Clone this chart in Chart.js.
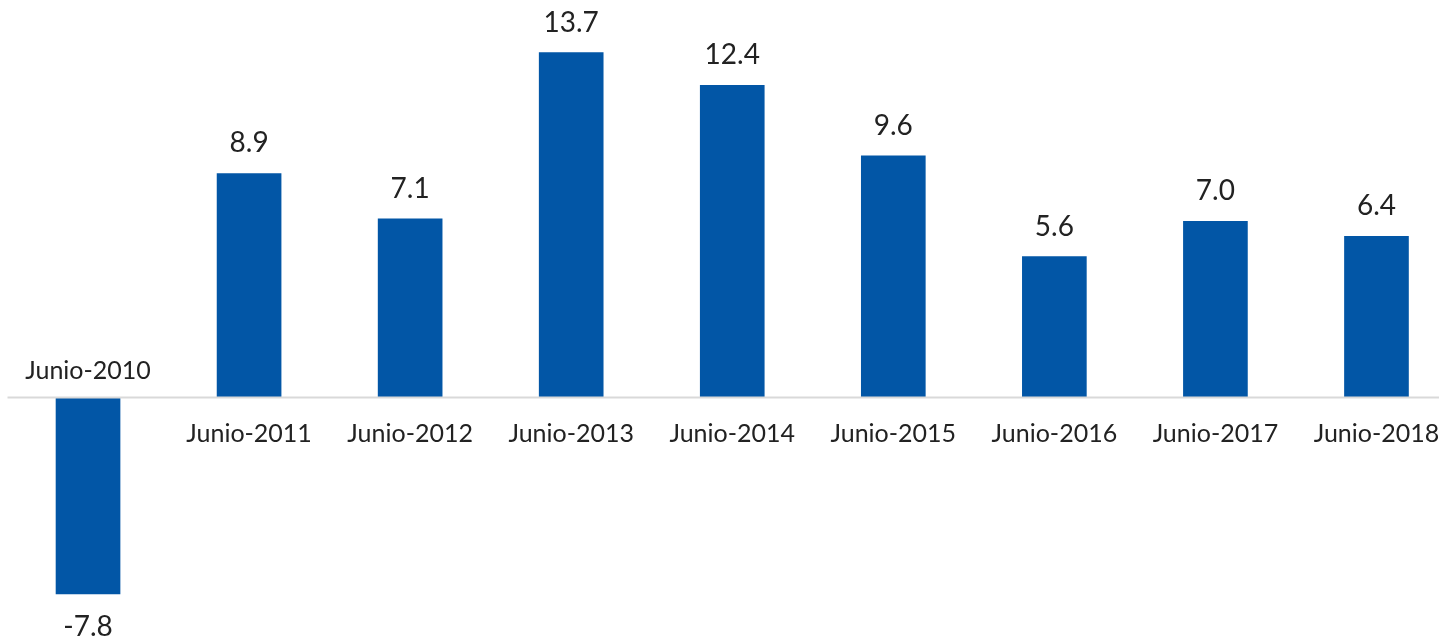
<!DOCTYPE html>
<html lang="es">
<head>
    <meta charset="UTF-8">
    <title>Variación Junio 2010 - Junio 2018</title>
    <script src="https://cdn.jsdelivr.net/npm/chart.js"></script>
    <style>
        html, body {
            margin: 0;
            padding: 0;
            background: #ffffff;
            overflow: hidden;
        }

        .chart-box {
            position: relative;
            width: 1457px;
            height: 642px;
        }
    </style>
</head>
<body>
    <div class="chart-box">
        <canvas id="barChart"></canvas>
    </div>

    <script>
        // data
        const categories = ['Junio-2010', 'Junio-2011', 'Junio-2012', 'Junio-2013', 'Junio-2014',
                            'Junio-2015', 'Junio-2016', 'Junio-2017', 'Junio-2018'];
        const values = [-7.8, 8.9, 7.1, 13.7, 12.4, 9.6, 5.6, 7.0, 6.4];

        // value axis range (keeps the zero line where the original has it)
        const yMin = -9.71;
        const yMax = 15.79;

        const barColor = '#0256a6';
        const textColor = '#222222';
        const categoryFont = '25px Lato, "Open Sans", sans-serif';
        const valueFont = '28px Lato, "Open Sans", sans-serif';

        // zero line + value labels + category labels next to the zero line
        const barLabels = {
            id: 'barLabels',
            afterDatasetsDraw(chart) {
                const ctx = chart.ctx;
                const area = chart.chartArea;
                const y0 = chart.scales.y.getPixelForValue(0);

                ctx.save();
                ctx.strokeStyle = '#d9d9d9';
                ctx.lineWidth = 2;
                ctx.beginPath();
                ctx.moveTo(area.left, y0);
                ctx.lineTo(area.right, y0);
                ctx.stroke();

                ctx.fillStyle = textColor;
                ctx.textAlign = 'center';
                ctx.textBaseline = 'alphabetic';

                chart.getDatasetMeta(0).data.forEach((bar, i) => {
                    const v = values[i];
                    if (v >= 0) {
                        ctx.font = valueFont;
                        ctx.fillText(v.toFixed(1), bar.x, bar.y - 21);
                        ctx.font = categoryFont;
                        ctx.fillText(categories[i], bar.x, y0 + 44);
                    } else {
                        ctx.font = valueFont;
                        ctx.fillText(v.toFixed(1), bar.x, bar.y + 42.5);
                        ctx.font = categoryFont;
                        ctx.fillText(categories[i], bar.x, y0 - 19);
                    }
                });
                ctx.restore();
            }
        };

        const ctx = document.getElementById('barChart').getContext('2d');
        new Chart(ctx, {
            type: 'bar',
            data: {
                labels: categories,
                datasets: [{
                    data: values,
                    backgroundColor: barColor,
                    borderWidth: 0,
                    barThickness: 64
                }]
            },
            options: {
                responsive: true,
                maintainAspectRatio: false,
                animation: false,
                layout: {
                    padding: { left: 7.5, right: 0, top: 0, bottom: 0 }
                },
                scales: {
                    x: { display: false },
                    y: { display: false, min: yMin, max: yMax }
                },
                plugins: {
                    legend: { display: false },
                    tooltip: { enabled: false }
                }
            },
            plugins: [barLabels]
        });
    </script>
</body>
</html>
